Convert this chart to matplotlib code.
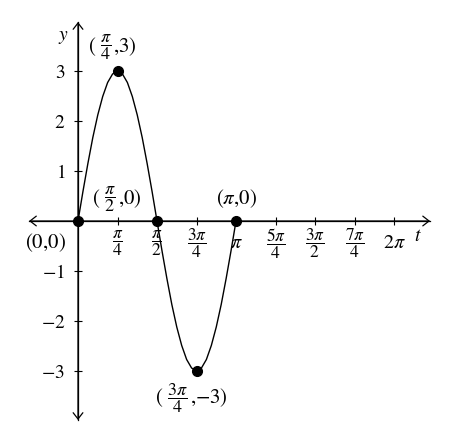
import numpy as np
import matplotlib
matplotlib.use("Agg")
import matplotlib.pyplot as plt

plt.rcParams["mathtext.fontset"] = "stix"
plt.rcParams["font.family"] = "STIXGeneral"

# curve samples: t = k*pi/32
curve_k = list(range(33))
curve_y = [0, 0.59, 1.15, 1.67, 2.12, 2.49, 2.77, 2.94, 3.0, 2.94, 2.77, 2.49, 2.12,
           1.67, 1.15, 0.59, 0, -0.59, -1.15, -1.67, -2.12, -2.49, -2.77, -2.94, -3.0,
           -2.94, -2.77, -2.49, -2.12, -1.67, -1.15, -0.59, 0]

# marked points (t in units of pi)
pts_t = [0, 0.25, 0.5, 0.75, 1.0]
pts_y = [0, 3, 0, -3, 0]
# label = (left part, fraction, right part); fraction may be empty
pts_labels = [("", "", r"$(0{,}0)$"),
              (r"$($", r"$\dfrac{\pi}{4}$", r"${,}3)$"),
              (r"$($", r"$\dfrac{\pi}{2}$", r"${,}0)$"),
              (r"$($", r"$\dfrac{3\pi}{4}$", r"${,}{-}3)$"),
              ("", "", r"$(\pi{,}0)$")]
pts_offsets = [(-23.4, -15.8), (-8.6, 17.3), (-33.8, 15.8), (-13.7, -19.4), (0.4, 16.3)]

xtick_pos = [0.25, 0.5, 0.75, 1.0, 1.25, 1.5, 1.75, 2.0]
xtick_labels = [r"$\dfrac{\pi}{4}$", r"$\dfrac{\pi}{2}$", r"$\dfrac{3\pi}{4}$", r"$\pi$",
                r"$\dfrac{5\pi}{4}$", r"$\dfrac{3\pi}{2}$", r"$\dfrac{7\pi}{4}$", r"$2\pi$"]
ytick_pos = [-3, -2, -1, 1, 2, 3]
ytick_labels = [r"$-3$", r"$-2$", r"$-1$", r"$1$", r"$2$", r"$3$"]

fig = plt.figure(figsize=(4.51, 4.44), dpi=100)
ax = fig.add_axes([0, 0, 1, 1])
ax.set_xlim(-1.551, 7.416)
ax.set_ylim(-4.46, 4.42)

x_lo, x_hi = -0.974, 7.0
y_lo, y_hi = -3.98, 3.98

for s in ["top", "right"]:
    ax.spines[s].set_visible(False)
ax.spines["left"].set_position(("data", 0))
ax.spines["bottom"].set_position(("data", 0))
ax.spines["left"].set_bounds(y_lo, y_hi)
ax.spines["bottom"].set_bounds(x_lo, x_hi)
ax.spines["left"].set_linewidth(0.9)
ax.spines["bottom"].set_linewidth(0.9)

arr = dict(arrowstyle="<->, head_length=0.45, head_width=0.35", lw=0.9,
           color="black", shrinkA=0, shrinkB=0, mutation_scale=10)
ax.annotate("", xy=(x_hi, 0), xytext=(x_lo, 0), arrowprops=arr)
ax.annotate("", xy=(0, y_hi), xytext=(0, y_lo), arrowprops=arr)

ax.set_xticks(np.array(xtick_pos) * np.pi)
ax.set_xticklabels(xtick_labels)
for lab in ax.get_xticklabels():
    lab.set_verticalalignment("center")
    if "dfrac" in lab.get_text():
        lab.set_fontsize(12.5)
    else:
        lab.set_fontsize(14.5)
ax.set_yticks(ytick_pos)
ax.set_yticklabels(ytick_labels, fontsize=14)
ax.tick_params(direction="inout", length=5.5, width=0.8)
ax.tick_params(axis="x", pad=13.5)
ax.tick_params(axis="y", pad=6.5)

t = np.array(curve_k) * np.pi / 32
ax.plot(t, curve_y, color="black", lw=1.0)
ax.plot(np.array(pts_t) * np.pi, pts_y, "o", color="black", ms=7, zorder=5)

for x, y, (left, frac, right), off in zip(pts_t, pts_y, pts_labels, pts_offsets):
    if not frac:
        ax.annotate(right, (x * np.pi, y), xytext=off, textcoords="offset points",
                    ha="center", va="center", fontsize=15)
        continue
    ft = ax.annotate(frac, (x * np.pi, y), xytext=off, textcoords="offset points",
                     ha="center", va="center", fontsize=13)
    ax.annotate(left, xy=(0, 0.5), xycoords=ft, xytext=(-2.5, 0),
                textcoords="offset points", ha="right", va="center", fontsize=15)
    ax.annotate(right, xy=(1, 0.5), xycoords=ft, xytext=(1.5, 0),
                textcoords="offset points", ha="left", va="center", fontsize=15)

ax.text(-0.298, 3.68, r"$y$", ha="center", va="center", fontsize=14)
ax.text(6.76, -0.30, r"$t$", ha="center", va="center", fontsize=14)

fig.savefig("out.png", dpi=100)
